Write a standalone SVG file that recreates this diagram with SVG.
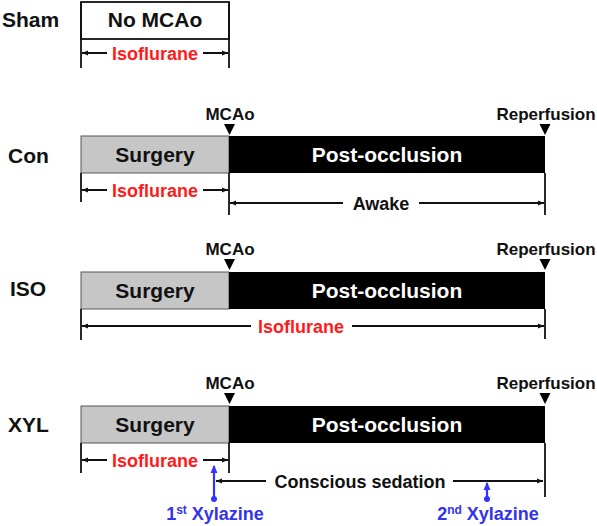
<svg xmlns="http://www.w3.org/2000/svg" width="597" height="526" viewBox="0 0 597 526">
<defs>
<marker id="ah" viewBox="0 0 6 6" refX="6" refY="3" markerWidth="6" markerHeight="6" markerUnits="userSpaceOnUse" orient="auto-start-reverse"><path d="M0,0.5 L6,3 L0,5.5 Z" fill="#111"/></marker>
<marker id="ahb" viewBox="0 0 8 8" refX="7" refY="4" markerWidth="8" markerHeight="8" markerUnits="userSpaceOnUse" orient="auto"><path d="M0,0.5 L8,4 L0,7.5 Z" fill="#3333ff"/></marker>
<style>
text{font-family:"Liberation Sans",Arial,sans-serif;font-weight:bold;}
.row{font-size:21px;fill:#111;}
.bar{font-size:21px;text-anchor:middle;}
.lab{font-size:17px;fill:#111;text-anchor:middle;}
.red{font-size:18px;fill:#ff1a1a;text-anchor:middle;}
.blk{font-size:18px;fill:#111;text-anchor:middle;}
.blu{font-size:18px;fill:#3333ee;text-anchor:middle;}
.gray{fill:#c6c6c6;stroke:#555;stroke-width:1;}
.black{fill:#000;}
.tick{stroke:#111;stroke-width:1.8;fill:none;}
.arr{stroke:#111;stroke-width:2;fill:none;}
.ar{stroke:#111;stroke-width:2;fill:none;marker-end:url(#ah);}
.bl{stroke:#3333ff;stroke-width:2.2;fill:none;marker-end:url(#ahb);}
.tri{fill:#000;}
</style>
</defs>

<g id="labels">
<text class="row" x="2" y="27">Sham</text>
<text class="row" x="8" y="163">Con</text>
<text class="row" x="10" y="296">ISO</text>
<text class="row" x="8" y="432">XYL</text>
</g>

<g id="sham">
<rect x="81" y="2" width="148" height="37" fill="#fff" stroke="#111" stroke-width="1.8"/>
<text class="bar" x="155" y="27" fill="#111">No MCAo</text>
</g>

<g id="con">
<rect class="gray" x="81" y="136" width="148" height="37"/>
<rect class="black" x="229" y="136" width="316" height="37"/>
<text class="bar" x="155" y="162" fill="#111">Surgery</text>
<text class="bar" x="387" y="162" fill="#fff">Post-occlusion</text>
<text class="lab" x="230" y="120">MCAo</text>
<text class="lab" x="546" y="120">Reperfusion</text>
<path class="tri" d="M224,124 L235,124 L229.5,135 Z"/>
<path class="tri" d="M539.5,124 L550.5,124 L545,135 Z"/>
</g>

<g id="iso">
<rect class="gray" x="81" y="272" width="148" height="37"/>
<rect class="black" x="229" y="272" width="316" height="37"/>
<text class="bar" x="155" y="298" fill="#111">Surgery</text>
<text class="bar" x="387" y="298" fill="#fff">Post-occlusion</text>
<text class="lab" x="230" y="255">MCAo</text>
<text class="lab" x="546" y="255">Reperfusion</text>
<path class="tri" d="M224,259 L235,259 L229.5,270 Z"/>
<path class="tri" d="M539.5,259 L550.5,259 L545,270 Z"/>
</g>

<g id="xyl">
<rect class="gray" x="81" y="406" width="148" height="37"/>
<rect class="black" x="229" y="406" width="316" height="37"/>
<text class="bar" x="155" y="432" fill="#111">Surgery</text>
<text class="bar" x="387" y="432" fill="#fff">Post-occlusion</text>
<text class="lab" x="230" y="389">MCAo</text>
<text class="lab" x="546" y="389">Reperfusion</text>
<path class="tri" d="M224,393 L235,393 L229.5,404 Z"/>
<path class="tri" d="M539.5,393 L550.5,393 L545,404 Z"/>
</g>

<g id="annotations">
<text class="red" x="155" y="60">Isoflurane</text>
<text class="red" x="155" y="197">Isoflurane</text>
<text class="blk" x="381" y="210">Awake</text>
<text class="red" x="301" y="333">Isoflurane</text>
<text class="red" x="155" y="467">Isoflurane</text>
<text class="blk" x="360" y="488">Conscious sedation</text>
<text class="blu" x="215" y="520">1<tspan font-size="12" dy="-6">st</tspan><tspan dy="6"> Xylazine</tspan></text>
<text class="blu" x="488" y="520">2<tspan font-size="12" dy="-6">nd</tspan><tspan dy="6"> Xylazine</tspan></text>
</g>

<g id="connectors">
<!-- sham -->
<line class="tick" x1="81" y1="2" x2="81" y2="68"/>
<line class="tick" x1="229" y1="2" x2="229" y2="68"/>
<line class="ar" x1="107" y1="53" x2="82" y2="53"/>
<line class="ar" x1="203" y1="53" x2="228" y2="53"/>
<!-- con -->
<line class="tick" x1="81" y1="173" x2="81" y2="202"/>
<line class="tick" x1="229" y1="173" x2="229" y2="215"/>
<line class="tick" x1="545" y1="173" x2="545" y2="215"/>
<line class="ar" x1="107" y1="190" x2="82" y2="190"/>
<line class="ar" x1="203" y1="190" x2="228" y2="190"/>
<line class="ar" x1="343" y1="203" x2="230" y2="203"/>
<line class="ar" x1="419" y1="203" x2="544" y2="203"/>
<!-- iso -->
<line class="tick" x1="81" y1="309" x2="81" y2="340"/>
<line class="tick" x1="545" y1="309" x2="545" y2="339"/>
<line class="ar" x1="251" y1="326" x2="82" y2="326"/>
<line class="ar" x1="352" y1="326" x2="544" y2="326"/>
<!-- xyl -->
<line class="tick" x1="81" y1="443" x2="81" y2="473"/>
<line class="tick" x1="229" y1="443" x2="229" y2="473"/>
<line class="tick" x1="545" y1="443" x2="545" y2="497"/>
<line class="ar" x1="107" y1="460" x2="82" y2="460"/>
<line class="ar" x1="203" y1="460" x2="228" y2="460"/>
<line class="ar" x1="266" y1="481" x2="216" y2="481"/>
<line class="ar" x1="453" y1="481" x2="543" y2="481"/>
<!-- xylazine -->
<circle cx="214" cy="499" r="3" fill="#3333ff"/>
<line class="bl" x1="214" y1="499" x2="214" y2="466"/>
<circle cx="487" cy="499" r="3" fill="#3333ff"/>
<line class="bl" x1="487" y1="499" x2="487" y2="483"/>
</g>
</svg>
